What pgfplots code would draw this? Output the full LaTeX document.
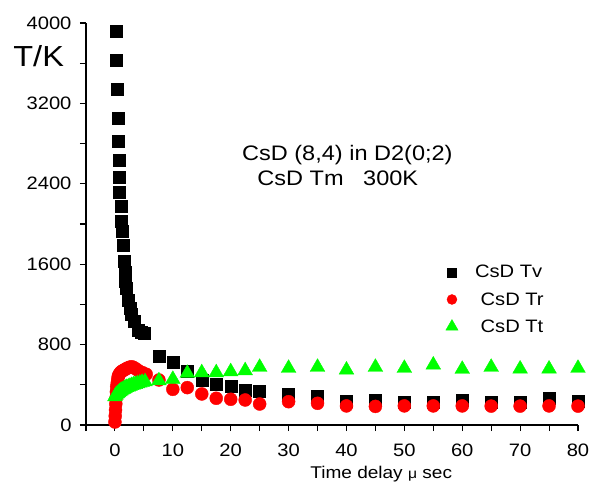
\documentclass[border=0pt]{standalone}
\usepackage{fontspec}
\setmainfont{Liberation Sans}[FakeStretch=1.12]
\usepackage{pgfplots}
\pgfplotsset{compat=1.18}
\definecolor{tgreen}{RGB}{0,255,0}
\definecolor{tred}{RGB}{255,0,0}
\begin{document}
\begin{tikzpicture}
\begin{axis}[
  name=ax,
  scale only axis, width=492pt, height=402pt,
  xmin=-5, xmax=80, ymin=0, ymax=4000,
  axis x line*=bottom, axis y line*=left,
  axis line style={line width=1.2pt, black},
  tick align=outside,
  major tick length=6pt, minor tick length=6pt,
  every tick/.style={black, line width=1.1pt},
  xtick={0,10,...,80}, minor xtick={-5,5,...,75},
  ytick={0,800,...,4000}, minor ytick={400,1200,...,3600},
  /pgf/number format/assume math mode=true,
  /pgf/number format/1000 sep={},
  tick label style={font=\fontsize{18}{20}\selectfont},
  xticklabel style={yshift=-9pt},
  yticklabel style={xshift=-5pt},
  clip=false,
  legend style={draw=none, fill=none, at={(axis description cs:0.725,0.4075)}, anchor=north west,
    font=\fontsize{18}{20}\selectfont, row sep=9pt,
    /tikz/every odd column/.append style={column sep=15pt}},
  legend cell align=left,
]
\addplot[only marks, mark=square*, mark size=6pt, black, legend image post style={mark size=4.5pt}] coordinates {
(0.2,3914)(0.3,3626)(0.4,3346)(0.5,3048)(0.55,2819)(0.65,2630)(0.75,2470)(0.8,2320)
(1.0,2174)(1.1,2025)(1.2,1925)(1.45,1793)(1.6,1627)(1.7,1520)(1.8,1430)(1.9,1364)(2.3,1245)
(2.6,1165)(2.8,1100)(3.3,1029)(4.0,946)(4.6,920)(5.1,916)
(7.6,680)(10,625)(12.5,531)(15,448)(17.5,405)(20,382)(22.5,349)(25,332)
(30,306)(35,289)(40,239)(45,249)(50,222)(55,229)(60,249)(65,229)(70,229)(75,262)(80,239)
};
\addlegendentry{CsD Tv}
\addplot[only marks, mark=*, mark size=6.5pt, tred, legend image post style={mark size=5pt}] coordinates {
(0,30)(0.05,90)(0.1,150)(0.15,210)(0.2,270)(0.25,330)(0.3,380)(0.4,420)(0.5,460)(0.6,490)
(0.8,510)(1.0,525)(1.2,535)(1.5,545)(1.8,555)(2.1,565)(2.5,575)(2.9,580)(3.3,570)(3.7,555)
(4.2,535)(4.8,520)(5.4,505)
(7.6,448)(10,355)(12.5,372)(15,309)(17.5,266)(20,256)(22.5,249)(25,209)
(30,232)(35,216)(40,190)(45,185)(50,190)(55,190)(60,190)(65,188)(70,188)(75,190)(80,188)
};
\addlegendentry{\ CsD Tr}
\addplot[only marks, mark=triangle*, mark size=8.5pt, tgreen, legend image post style={mark size=7pt}] coordinates {
(0,282)(0.2,300)(0.4,312)(0.6,322)(0.8,332)(1.0,340)(1.2,348)(1.4,355)(1.6,362)(1.8,368)
(2.0,374)(2.3,380)(2.6,387)(2.9,394)(3.2,400)(3.5,405)(3.9,412)(4.3,418)(4.7,425)(5.2,431)
(7.6,441)(10,455)(12.5,515)(15,521)(17.5,521)(20,531)(22.5,541)(25,575)
(30,565)(35,575)(40,548)(45,575)(50,565)(55,598)(60,555)(65,575)(70,558)(75,558)(80,565)
};
\addlegendentry{\ CsD Tt}
\node[anchor=base west, inner sep=0, font=\fontsize{29}{31}\selectfont] at (axis description cs:-0.148,0.891) {T/K};
\node[anchor=base west, inner sep=0, font=\fontsize{21}{23}\selectfont] at (axis description cs:0.317,0.657) {CsD (8,4) in D2(0;2)};
\node[anchor=base west, inner sep=0, font=\fontsize{21}{23}\selectfont] at (axis description cs:0.348,0.597) {CsD Tm\ \ \ 300K};
\node[anchor=base, inner sep=0, font=\fontsize{17}{19}\selectfont] at ([yshift=-53pt]axis description cs:0.6,0) {Time delay {\fontsize{14}{16}\selectfont μ} sec};
\end{axis}
\pgfresetboundingbox
\path ([shift={(-86pt,-57pt)}]ax.south west) rectangle ([shift={(14pt,23pt)}]ax.north east);
\end{tikzpicture}
\end{document}
